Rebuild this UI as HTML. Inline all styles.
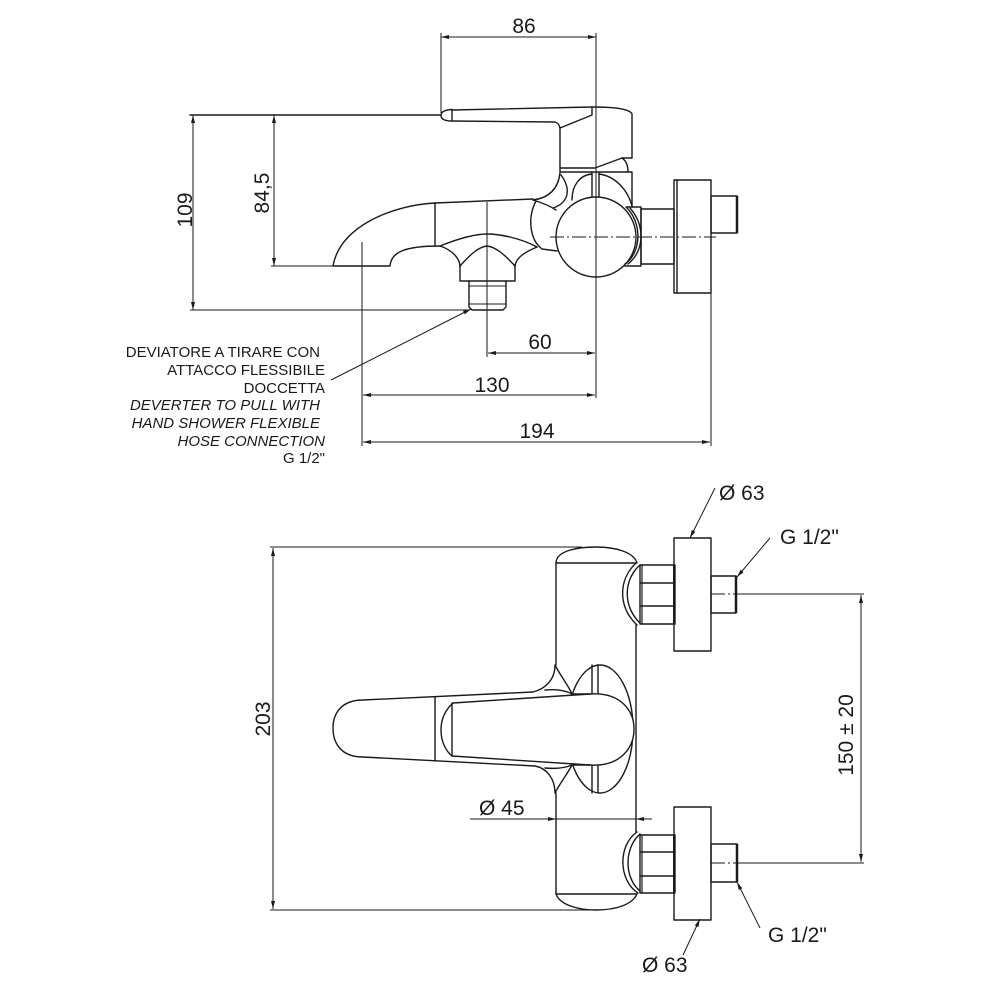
<!DOCTYPE html>
<html><head><meta charset="utf-8"><style>
html,body{margin:0;padding:0;background:#fff;}
svg{display:block;}
text{font-family:"Liberation Sans",Arial,sans-serif;fill:#1a1a1a;}
.o{fill:none;stroke:#1a1a1a;stroke-width:1.4;stroke-linejoin:round;stroke-linecap:round;}
.w{fill:#fff;stroke:#1a1a1a;stroke-width:1.4;stroke-linejoin:round;}
.d{fill:none;stroke:#1a1a1a;stroke-width:1;}
.c{fill:none;stroke:#1a1a1a;stroke-width:0.9;stroke-dasharray:14 3 2 3;}
.lab{font-size:15px;}
.num{font-size:21px;}
</style></head><body>
<svg width="1000" height="1000" viewBox="0 0 1000 1000" xmlns="http://www.w3.org/2000/svg">
<defs>
<marker id="a" viewBox="0 0 8 4" refX="8" refY="2" markerWidth="8" markerHeight="4" orient="auto-start-reverse" markerUnits="userSpaceOnUse">
<path d="M0,0 L8,2 L0,4 z" fill="#1a1a1a"/>
</marker>
</defs>

<!-- ================= TOP VIEW (side) ================= -->
<!-- dimension 86 -->
<line class="d" x1="441" y1="37" x2="596" y2="37" marker-start="url(#a)" marker-end="url(#a)"/>
<line class="d" x1="441" y1="33" x2="441" y2="113"/>
<line class="d" x1="596" y1="33" x2="596" y2="398"/>
<text class="num" x="524" y="33" text-anchor="middle">86</text>

<!-- dimension 109 / 84,5 -->
<line class="o" x1="190" y1="115" x2="441" y2="115"/>
<line class="d" x1="190" y1="310" x2="470" y2="310"/>
<line class="d" x1="271" y1="266" x2="333" y2="266"/>
<line class="d" x1="193" y1="115" x2="193" y2="310" marker-start="url(#a)" marker-end="url(#a)"/>
<line class="d" x1="274" y1="115" x2="274" y2="266" marker-start="url(#a)" marker-end="url(#a)"/>
<text class="num" transform="translate(192,210) rotate(-90)" text-anchor="middle">109</text>
<text class="num" transform="translate(269,193) rotate(-90)" text-anchor="middle">84,5</text>

<!-- bottom dims 60 / 130 / 194 -->
<line class="d" x1="487" y1="202" x2="487" y2="357"/>
<line class="d" x1="362" y1="242" x2="362" y2="446"/>
<line class="d" x1="711" y1="293" x2="711" y2="446"/>
<line class="d" x1="488" y1="353" x2="595" y2="353" marker-start="url(#a)" marker-end="url(#a)"/>
<line class="d" x1="363" y1="395" x2="595" y2="395" marker-start="url(#a)" marker-end="url(#a)"/>
<line class="d" x1="363" y1="442" x2="710" y2="442" marker-start="url(#a)" marker-end="url(#a)"/>
<text class="num" x="540" y="349" text-anchor="middle">60</text>
<text class="num" x="492" y="392" text-anchor="middle">130</text>
<text class="num" x="537" y="438" text-anchor="middle">194</text>

<!-- leader -->
<line class="d" x1="331" y1="380" x2="471" y2="309" marker-end="url(#a)"/>

<!-- label text -->
<text class="lab" x="320" y="357" text-anchor="end">DEVIATORE A TIRARE CON</text>
<text class="lab" x="325" y="375" text-anchor="end">ATTACCO FLESSIBILE</text>
<text class="lab" x="325" y="393" text-anchor="end">DOCCETTA</text>
<text class="lab" x="320" y="410" text-anchor="end" font-style="italic">DEVERTER TO PULL WITH</text>
<text class="lab" x="320" y="428" text-anchor="end" font-style="italic">HAND SHOWER FLEXIBLE</text>
<text class="lab" x="325" y="446" text-anchor="end" font-style="italic">HOSE CONNECTION</text>
<text class="lab" x="325" y="463" text-anchor="end">G 1/2"</text>

<!-- lever -->
<path class="o" d="M452,110 L592,107 C615,107 630,109 632,114 L632,158"/>
<path class="o" d="M452,109.5 Q441,110 441,115.5 Q441,121 452,121 Z"/>
<path class="o" d="M452,121 L555,122 Q559,123 560,128 L560,172"/>
<path class="o" d="M560,168 L595,168 L622,158 L632,158"/>
<path class="o" d="M560,128 L592,115 L592,107"/>
<path class="o" d="M622,158 Q628,162 628,172"/>

<!-- body -->
<path class="o" d="M560,172 L632,172 L632,207"/>
<path class="o" d="M560,173 C558,190 548,198 533,200"/>
<!-- spout -->
<path class="o" d="M435,203 L533,199"/>
<path class="o" d="M435,203 C395,205 340,225 333,266 L390,266 C391,252 405,246 440,246"/>
<line class="o" x1="435" y1="203" x2="435" y2="246"/>
<path class="o" d="M440,246 C460,238 475,234 487,234 C500,234 520,238 537,247"/>
<!-- diverter cone -->
<path class="o" d="M440,246 C452,250 460,258 460,267"/>
<path class="o" d="M537,247 C525,252 515,258 515,267"/>
<path class="o" d="M460,266 C470,255 478,247 487,246 C496,247 505,255 515,266"/>
<path class="o" d="M460,265 L460,281 L515,281 L515,265"/>
<path class="o" d="M469,281 L469,307 L472,310 L503,310 L506,307 L506,281"/>
<line class="d" x1="469" y1="286" x2="506" y2="286"/>
<line class="d" x1="469" y1="304" x2="506" y2="304"/>

<!-- petals -->
<path class="o" d="M536,201 C527,218 530,240 542,249 L557,251"/>
<path class="o" d="M533,200 C543,203 550,206 556,210"/>
<path class="o" d="M561,175 C572,190 568,203 553,208"/>
<path class="o" d="M572,200 C572,185 580,175 592,174"/>
<line class="o" x1="592" y1="173" x2="592" y2="197"/>
<line class="o" x1="599" y1="173" x2="599" y2="197"/>
<path class="o" d="M599,174 C615,176 628,190 632,206"/>

<!-- knob circle -->
<circle class="o" cx="596" cy="237" r="40"/>
<path class="o" d="M626,207 C642,222 642,252 625,264"/>
<path class="o" d="M630,208 C645,225 645,250 628,264"/>
<!-- right connection -->
<path class="o" d="M627,207 L641,207 L641,266 L625,266"/>
<rect class="o" x="641" y="209" width="33" height="55"/>
<rect class="o" x="674" y="180" width="37" height="113"/>
<line class="o" x1="677" y1="180" x2="677" y2="293"/>
<rect class="o" x="711" y="196" width="26" height="37"/>
<line x1="737" y1="196" x2="737" y2="233" stroke="#1a1a1a" stroke-width="2.5"/>
<line class="c" x1="550" y1="237" x2="716" y2="237"/>

<!-- ================= BOTTOM VIEW (front) ================= -->
<!-- 203 dim -->
<line class="d" x1="270" y1="547" x2="582" y2="547"/>
<line class="d" x1="270" y1="910" x2="596" y2="910"/>
<line class="d" x1="273" y1="548" x2="273" y2="909" marker-start="url(#a)" marker-end="url(#a)"/>
<text class="num" transform="translate(270,719) rotate(-90)" text-anchor="middle">203</text>

<!-- body -->
<path class="o" d="M556,563 C556,550 580,547 596,547 C615,547 634,552 637,563 Z"/>
<line class="o" x1="556" y1="563" x2="556" y2="665"/>
<line class="o" x1="556" y1="793" x2="556" y2="894"/>
<line class="o" x1="636" y1="624" x2="636" y2="832"/>
<path class="o" d="M556,894 L637,894 M556,894 C560,905 578,910 596,910 C615,910 632,905 637,894"/>

<!-- upper connection -->
<path class="o" d="M636,563 C618,580 618,607 637,625"/>
<path class="o" d="M640,565 C623,580 623,607 640,623"/>
<rect class="o" x="640" y="565" width="35" height="59"/>
<line class="o" x1="640" y1="583" x2="675" y2="583"/>
<line class="o" x1="640" y1="606" x2="675" y2="606"/>
<line x1="642" y1="565" x2="642" y2="624" stroke="#1a1a1a" stroke-width="1.2"/>
<line x1="674" y1="565" x2="674" y2="624" stroke="#1a1a1a" stroke-width="2"/>
<rect class="o" x="674" y="538" width="37" height="113"/>
<rect class="o" x="711" y="576" width="25" height="37"/>
<line x1="736" y1="576" x2="736" y2="613" stroke="#1a1a1a" stroke-width="2.5"/>
<line class="c" x1="711" y1="594" x2="736" y2="594"/>
<line class="d" x1="736" y1="594" x2="864" y2="594"/>

<!-- lower connection -->
<path class="o" d="M637,832 C618,845 618,880 638,893"/>
<path class="o" d="M640,834 C624,848 624,878 640,891"/>
<rect class="o" x="640" y="835" width="35" height="58"/>
<line class="o" x1="640" y1="852" x2="675" y2="852"/>
<line class="o" x1="640" y1="876" x2="675" y2="876"/>
<line x1="642" y1="835" x2="642" y2="893" stroke="#1a1a1a" stroke-width="1.2"/>
<line x1="674" y1="835" x2="674" y2="893" stroke="#1a1a1a" stroke-width="2"/>
<rect class="o" x="674" y="807" width="37" height="113"/>
<rect class="o" x="711" y="844" width="26" height="38"/>
<line x1="737" y1="844" x2="737" y2="882" stroke="#1a1a1a" stroke-width="2.5"/>
<line class="c" x1="711" y1="863" x2="737" y2="863"/>
<line class="d" x1="737" y1="863" x2="864" y2="863"/>

<!-- 150 ± 20 -->
<line class="d" x1="861" y1="595" x2="861" y2="862" marker-start="url(#a)" marker-end="url(#a)"/>
<text class="num" transform="translate(853,735) rotate(-90)" text-anchor="middle">150 ± 20</text>

<!-- handle -->
<ellipse class="w" cx="600" cy="729" rx="33" ry="64"/>
<line class="o" x1="592" y1="665" x2="592" y2="694"/>
<line class="o" x1="598" y1="665" x2="598" y2="693"/>
<line class="o" x1="592" y1="765" x2="592" y2="793"/>
<line class="o" x1="598" y1="765" x2="598" y2="793"/>
<path class="w" d="M363,700 L533,692 C545,689 555,680 555,665 C560,675 568,685 572,694 L590,694 C620,692 634,710 634,729 C634,748 620,767 590,765 L572,765 C568,773 560,783 555,793 C555,778 546,768 535,766 L363,757 C340,757 333,742 333,728 C333,715 340,700 363,700 Z"/>
<path class="o" d="M545,690 C556,689 565,690 572,694"/>
<path class="o" d="M545,768 C556,769 565,768 572,765"/>
<line class="o" x1="435" y1="697" x2="435" y2="761"/>
<path class="o" d="M453,703 L590,694"/>
<path class="o" d="M452,756 L590,765"/>
<path class="o" d="M453,703 C443,712 441,722 441,730 C441,742 446,751 452,756"/>
<line class="o" x1="452" y1="703" x2="452" y2="756"/>

<!-- Ø45 dim -->
<line class="d" x1="470" y1="819" x2="556" y2="819" marker-end="url(#a)"/>
<line class="d" x1="556" y1="819" x2="636" y2="819"/>
<line class="d" x1="652" y1="819" x2="636" y2="819" marker-end="url(#a)"/>
<text class="num" x="479" y="815">Ø 45</text>

<!-- leaders -->
<line class="d" x1="715" y1="488" x2="690" y2="538" marker-end="url(#a)"/>
<text class="num" x="719" y="500">Ø 63</text>
<line class="d" x1="770" y1="538" x2="737" y2="577" marker-end="url(#a)"/>
<text class="num" x="780" y="544">G 1/2"</text>
<line class="d" x1="760" y1="928" x2="737" y2="882" marker-end="url(#a)"/>
<text class="num" x="768" y="942">G 1/2"</text>
<line class="d" x1="683" y1="955" x2="700" y2="919" marker-end="url(#a)"/>
<text class="num" x="642" y="972">Ø 63</text>
</svg>
</body></html>
